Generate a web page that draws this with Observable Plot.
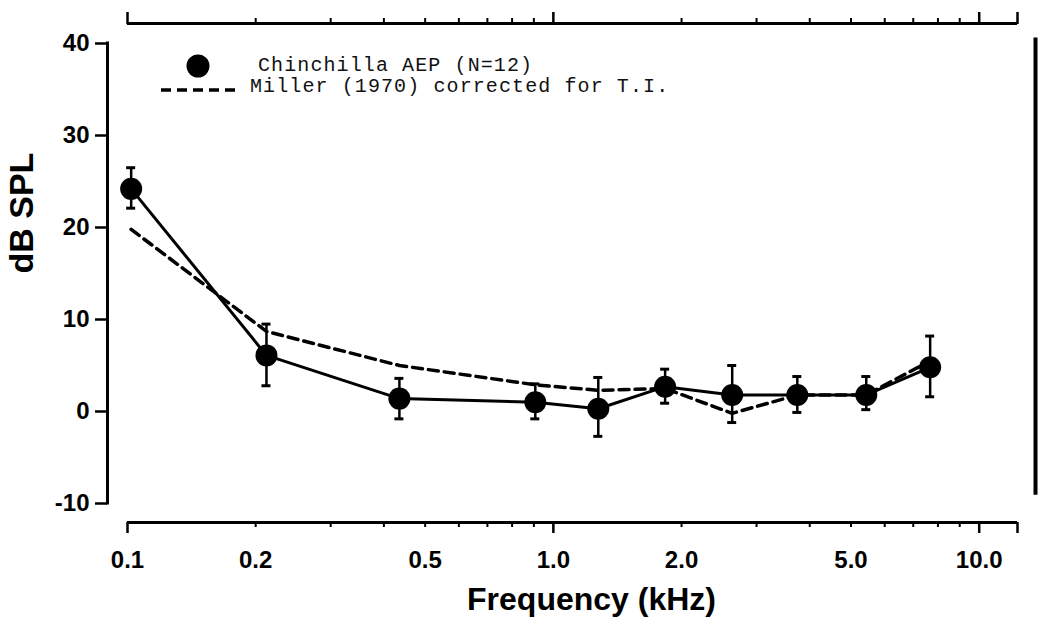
<!DOCTYPE html>
<html>
<head>
<meta charset="utf-8">
<script src="https://cdn.jsdelivr.net/npm/d3@7"></script>
<script src="https://cdn.jsdelivr.net/npm/@observablehq/plot@0.6"></script>
<style>
  body { margin: 0; background: #fff; }
  #chart { width: 1038px; height: 638px; }
  #chart svg text { font-weight: bold; }
  #chart svg g.legend text { font-weight: normal; }
</style>
</head>
<body>
<div id="chart"></div>
<script>
// ---- data ----
const freqs   = [0.102, 0.212, 0.435, 0.907, 1.275, 1.83, 2.63, 3.74, 5.43, 7.67]; // kHz
const aepMean = [24.2, 6.1, 1.4, 1.0, 0.3, 2.7, 1.8, 1.8, 1.8, 4.8];              // dB SPL
const aepHigh = [26.5, 9.5, 3.6, 3.0, 3.7, 4.6, 5.0, 3.8, 3.8, 8.2];
const aepLow  = [22.1, 2.8, -0.8, -0.8, -2.7, 0.9, -1.2, -0.1, 0.2, 1.6];
const miller  = [19.8, 8.7, 5.0, 2.9, 2.3, 2.5, -0.2, 1.8, 1.8, 5.5];

const xDomain = [0.1, 12.3];
const yDomain = [-10, 40];
const xMinorTicks = [0.2, 0.3, 0.4, 0.5, 0.6, 0.7, 0.8, 0.9, 2, 3, 4, 5, 6, 7, 8, 9];
const xMajorTicks = [0.1, 1, 10, 12.3];
const xLabelTicks = [0.1, 0.2, 0.5, 1, 2, 5, 10];
const xTickLabels = ["0.1", "0.2", "0.5", "1.0", "2.0", "5.0", "10.0"];
const yTicks = [-10, 0, 10, 20, 30, 40];
const legendLabels = ["Chinchilla AEP (N=12)", "Miller (1970) corrected for T.I."];
const xTitle = "Frequency (kHz)";
const yTitle = "dB SPL";

const aepData = freqs.map((f, i) => ({f, y: aepMean[i], lo: aepLow[i], hi: aepHigh[i]}));
const millerData = freqs.map((f, i) => ({f, y: miller[i]}));

const sans = "'Liberation Sans', Arial, Helvetica, sans-serif";

const plot = Plot.plot({
  width: 1038,
  height: 638,
  marginLeft: 127,
  marginRight: 21,
  marginTop: 43,
  marginBottom: 135,
  x: {type: "log", domain: xDomain, axis: null, label: null},
  y: {domain: yDomain, axis: null, label: null},
  style: {background: "#fff", color: "#000", fontFamily: sans},
  marks: [
    // left y axis
    Plot.ruleX([xDomain[0]], {y1: yDomain[0], y2: yDomain[1], dx: -20, strokeWidth: 3, strokeLinecap: "square"}),
    Plot.axisY({ticks: yTicks, tickSize: 12, tickPadding: 6, dx: -20, strokeWidth: 2.5, label: null,
      fontSize: 24, fontWeight: "bold", tickFormat: d => String(d)}),
    // bottom x axis
    Plot.ruleY([yDomain[0]], {x1: xDomain[0], x2: xDomain[1], dy: 19, strokeWidth: 3}),
    Plot.axisX({anchor: "bottom", ticks: xMinorTicks, tickSize: 5, dy: 19, strokeWidth: 2, label: null, tickFormat: () => ""}),
    Plot.axisX({anchor: "bottom", ticks: xMajorTicks, tickSize: 11, dy: 19, strokeWidth: 2.5, label: null, tickFormat: () => ""}),
    Plot.axisX({anchor: "bottom", ticks: xLabelTicks, tickSize: 0, tickPadding: 28, dy: 19, label: null,
      fontSize: 24, fontWeight: "bold", tickFormat: d => xTickLabels[xLabelTicks.indexOf(d)]}),
    // top x axis
    Plot.ruleY([yDomain[1]], {x1: xDomain[0], x2: xDomain[1], dy: -20, strokeWidth: 3}),
    Plot.axisX({anchor: "top", ticks: xMinorTicks, tickSize: 6, dy: -20, strokeWidth: 2, label: null, tickFormat: () => ""}),
    Plot.axisX({anchor: "top", ticks: xMajorTicks, tickSize: 12, dy: -20, strokeWidth: 2.5, label: null, tickFormat: () => ""}),
    // right frame line
    Plot.ruleX([xDomain[1]], {y1: -9.1, y2: 40.6, dx: 18, strokeWidth: 4}),
    // Miller dashed curve
    Plot.line(millerData, {x: "f", y: "y", stroke: "#000", strokeWidth: 3.5, strokeDasharray: "10,6"}),
    // AEP error bars
    Plot.ruleX(aepData, {x: "f", y1: "lo", y2: "hi", stroke: "#000", strokeWidth: 2.5}),
    Plot.ruleY(aepData, {y: "hi", x1: "f", x2: "f", insetLeft: -4.5, insetRight: -4.5, strokeWidth: 3}),
    Plot.ruleY(aepData, {y: "lo", x1: "f", x2: "f", insetLeft: -4.5, insetRight: -4.5, strokeWidth: 3}),
    // AEP line and dots
    Plot.line(aepData, {x: "f", y: "y", stroke: "#000", strokeWidth: 3}),
    Plot.dot(aepData, {x: "f", y: "y", r: 11, fill: "#000", stroke: "none"}),
    // axis titles
    Plot.text([yTitle], {frameAnchor: "left", dx: -105, rotate: -90, fontSize: 34, fontWeight: "bold"}),
    Plot.text([xTitle], {frameAnchor: "bottom", dx: 19, dy: 106, fontSize: 32, fontWeight: "bold"})
  ]
});

// legend (drawn into the same svg)
const svg = d3.select(plot);
const lg = svg.append("g").attr("class", "legend")
  .attr("font-family", "'Liberation Mono', 'Courier New', monospace")
  .attr("font-size", 20).attr("letter-spacing", 1.1)
  .attr("fill", "#111").attr("text-anchor", "start");
lg.append("circle").attr("cx", 198).attr("cy", 66).attr("r", 11.5).attr("fill", "#000");
lg.append("text").attr("x", 258).attr("y", 71).text(legendLabels[0]);
lg.append("line").attr("x1", 161).attr("x2", 238).attr("y1", 90).attr("y2", 90)
  .attr("stroke", "#000").attr("stroke-width", 3.5).attr("stroke-dasharray", "10,6");
lg.append("text").attr("x", 250).attr("y", 92).text(legendLabels[1]);

document.getElementById("chart").appendChild(plot);
</script>
</body>
</html>
